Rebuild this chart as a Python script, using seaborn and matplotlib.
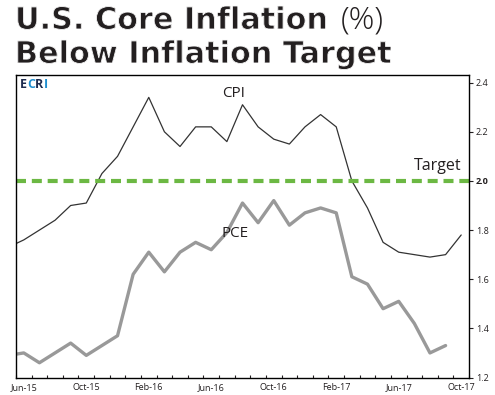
import numpy as np
import pandas as pd
import seaborn as sns
import matplotlib.pyplot as plt
import matplotlib.patheffects as pe
from matplotlib.ticker import FixedLocator
from matplotlib.offsetbox import TextArea, HPacker, AnchoredOffsetbox

# monthly data, May-15 .. Oct-17 (May-15 is only partly visible at the left edge)
meses = ["May-15", "Jun-15", "Jul-15", "Aug-15", "Sep-15", "Oct-15", "Nov-15", "Dec-15",
         "Jan-16", "Feb-16", "Mar-16", "Apr-16", "May-16", "Jun-16", "Jul-16", "Aug-16",
         "Sep-16", "Oct-16", "Nov-16", "Dec-16", "Jan-17", "Feb-17", "Mar-17", "Apr-17",
         "May-17", "Jun-17", "Jul-17", "Aug-17", "Sep-17", "Oct-17"]
cpi = [1.73, 1.76, 1.80, 1.84, 1.90, 1.91, 2.03, 2.10, 2.22, 2.34, 2.20, 2.14, 2.22, 2.22, 2.16,
       2.31, 2.22, 2.17, 2.15, 2.22, 2.27, 2.22, 2.00, 1.89, 1.75, 1.71, 1.70, 1.69, 1.70, 1.78]
pce = [1.29, 1.30, 1.26, 1.30, 1.34, 1.29, 1.33, 1.37, 1.62, 1.71, 1.63, 1.71, 1.75, 1.72, 1.79,
       1.91, 1.83, 1.92, 1.82, 1.87, 1.89, 1.87, 1.61, 1.58, 1.48, 1.51, 1.42, 1.30, 1.33, np.nan]
meta = 2.0
yticks = [1.2, 1.4, 1.6, 1.8, 2.0, 2.2, 2.4]
xtick_labels = ["Jun-15", "Oct-15", "Feb-16", "Jun-16", "Oct-16", "Feb-17", "Jun-17", "Oct-17"]

df = pd.DataFrame({"pos": np.arange(len(meses)), "mes": meses, "cpi": cpi, "pce": pce})

sns.set_style("ticks")
plt.rcParams["font.family"] = ["Open Sans", "DejaVu Sans"]
escuro = "#231f20"

fig = plt.figure(figsize=(4.95, 3.95), dpi=100)
ax = fig.add_axes([0.0323, 0.0443, 0.9152, 0.7658])

sns.lineplot(data=df, x="pos", y="pce", ax=ax, color="#999999", lw=2.4)
sns.lineplot(data=df, x="pos", y="cpi", ax=ax, color="#333333", lw=0.9)
ax.axhline(meta, color="#6cb843", lw=3, linestyle=(0, (2.4, 1.4)))

ax.set_xlim(0.5, 29.5)
ax.set_ylim(1.2, 2.431)
ax.set_xlabel("")
ax.set_ylabel("")

# x axis: labels on the months, small ticks between months
pos_labels = [meses.index(m) for m in xtick_labels]
ax.set_xticks(pos_labels)
ax.set_xticklabels(xtick_labels, fontsize=6.5, color=escuro)
ax.xaxis.set_minor_locator(FixedLocator(np.arange(0.5, 30, 1)))
ax.tick_params(axis="x", which="major", length=0, pad=4)
ax.tick_params(axis="x", which="minor", length=2.5, width=0.8, direction="in", color=escuro)

# y axis on the right
ax.yaxis.tick_right()
ax.set_yticks(yticks)
ax.set_yticklabels([f"{v:.1f}" for v in yticks], fontsize=6.5, color=escuro)
ax.tick_params(axis="y", length=3, width=0.8, pad=2, color=escuro)
for lbl in ax.get_yticklabels():
    if lbl.get_text() == "2.0":
        lbl.set_fontweight("bold")

for s in ax.spines.values():
    s.set_visible(True)
    s.set_linewidth(1.0)
    s.set_color("black")

ax.text(14.4, 2.356, "CPI", fontsize=11, color=escuro, ha="center", va="center")
ax.text(14.5, 1.784, "PCE", fontsize=11, color=escuro, ha="center", va="center")
ax.text(29.0, 2.061, "Target", fontsize=11.5, color=escuro, ha="right", va="center")

# ECRI logo
letras = [("E", "#1d2b4f"), ("C", "#1f8fd0"), ("R", "#1d2b4f"), ("I", "#1f8fd0")]
caixas = [TextArea(l, textprops=dict(color=c, fontsize=9, fontweight="bold")) for l, c in letras]
logo = AnchoredOffsetbox(loc="upper left", child=HPacker(children=caixas, sep=0, pad=0),
                         frameon=False, bbox_to_anchor=(0.003, 1.0), bbox_transform=ax.transAxes,
                         borderpad=0.2, pad=0)
ax.add_artist(logo)

# title (bold glyphs thinned a little with a white outline)
afinar = [pe.Normal(), pe.Stroke(linewidth=0.6, foreground="white")]
fonte_titulo = dict(fontsize=21.8, fontweight="bold", color=escuro, family="DejaVu Sans",
                    ha="left", va="baseline", path_effects=afinar)
t1 = fig.text(15 / 495, 1 - 29 / 395, "U.S. Core Inflation", **fonte_titulo)
fig.text(15 / 495, 1 - 63 / 395, "Below Inflation Target", **fonte_titulo)
fig.canvas.draw()
bb = t1.get_window_extent()
fig.text((bb.x1 + 14) / fig.bbox.width, 1 - 29 / 395, "(%)", fontsize=23, fontweight="light",
         color=escuro, ha="left", va="baseline")

fig.savefig("out.png", dpi=100)
